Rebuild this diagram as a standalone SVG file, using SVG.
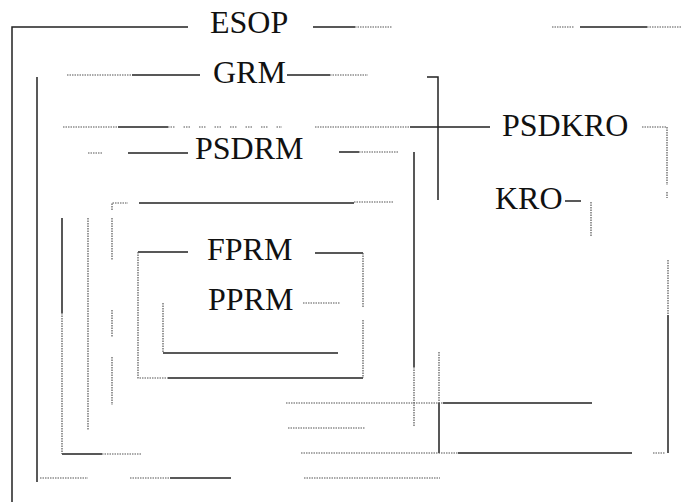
<svg xmlns="http://www.w3.org/2000/svg" width="681" height="502" viewBox="0 0 681 502">
<style>
.s{stroke:#222;stroke-width:1.5;fill:none}
.d{stroke:#555;stroke-width:1.2;fill:none;stroke-dasharray:1.5 1}
.sp{stroke:#555;stroke-width:1.2;fill:none;stroke-dasharray:1.5 1 1.5 1 1.5 9}
.t{font-family:"Liberation Serif","Times New Roman",serif;font-size:32px;fill:#111}
</style>
<rect width="681" height="502" fill="#fff"/>
<g id="connectors">
<path class="s" d="M12 502V27H188M313 27H355M580 27H647"/>
<path class="d" d="M355 27H392M552 27H574M647 27H681"/>
<path class="s" d="M132 75H200M287 75H330M427 77H438V200"/>
<path class="d" d="M67 75H132M330 75H368"/>
<path class="s" d="M37 77V482"/>
<path class="s" d="M118 127H168M410 127H490"/>
<path class="d" d="M63 127H118M315 127H410"/>
<path class="sp" d="M168 127H282"/>
<path class="d" d="M642 127H667V185M667 192V198"/>
<path class="s" d="M128 153H188M339 152H359M414 152V367"/>
<path class="d" d="M88 153H103M359 152H398M414 367V427"/>
<path class="s" d="M139 203H354"/>
<path class="d" d="M112 210V203H128M354 202H393"/>
<path class="d" d="M112 218V260M112 310V337M112 357V405"/>
<path class="d" d="M88 218V430"/>
<path class="s" d="M62 218V313M62 454H102"/>
<path class="d" d="M62 313V454M102 454H142"/>
<path class="s" d="M138 252H188M315 253H363M168 378H363"/>
<path class="d" d="M363 253V307M363 320V378M138 252V378H168"/>
<path class="d" d="M303 303H340M163 303V353"/>
<path class="s" d="M163 353H338"/>
<path class="s" d="M565 201H581"/>
<path class="d" d="M591 202V237"/>
<path class="d" d="M668 260V315"/>
<path class="s" d="M668 315V453"/>
<path class="d" d="M439 352V403"/>
<path class="s" d="M443 403H592M439 403V453M458 453H632"/>
<path class="d" d="M286 403H443M288 428H365M301 453H458M653 453H665"/>
<path class="d" d="M40 478H88M130 478H170M304 478H440"/>
<path class="s" d="M170 478H231"/>
</g>
<g id="esop"><text class="t" x="210" y="33">ESOP</text></g>
<g id="grm"><text class="t" x="213" y="83">GRM</text></g>
<g id="psdkro"><text class="t" x="502" y="136">PSDKRO</text></g>
<g id="psdrm"><text class="t" x="195" y="159">PSDRM</text></g>
<g id="kro"><text class="t" x="495" y="209">KRO</text></g>
<g id="fprm"><text class="t" x="207" y="260">FPRM</text></g>
<g id="pprm"><text class="t" x="208" y="310">PPRM</text></g>
</svg>
